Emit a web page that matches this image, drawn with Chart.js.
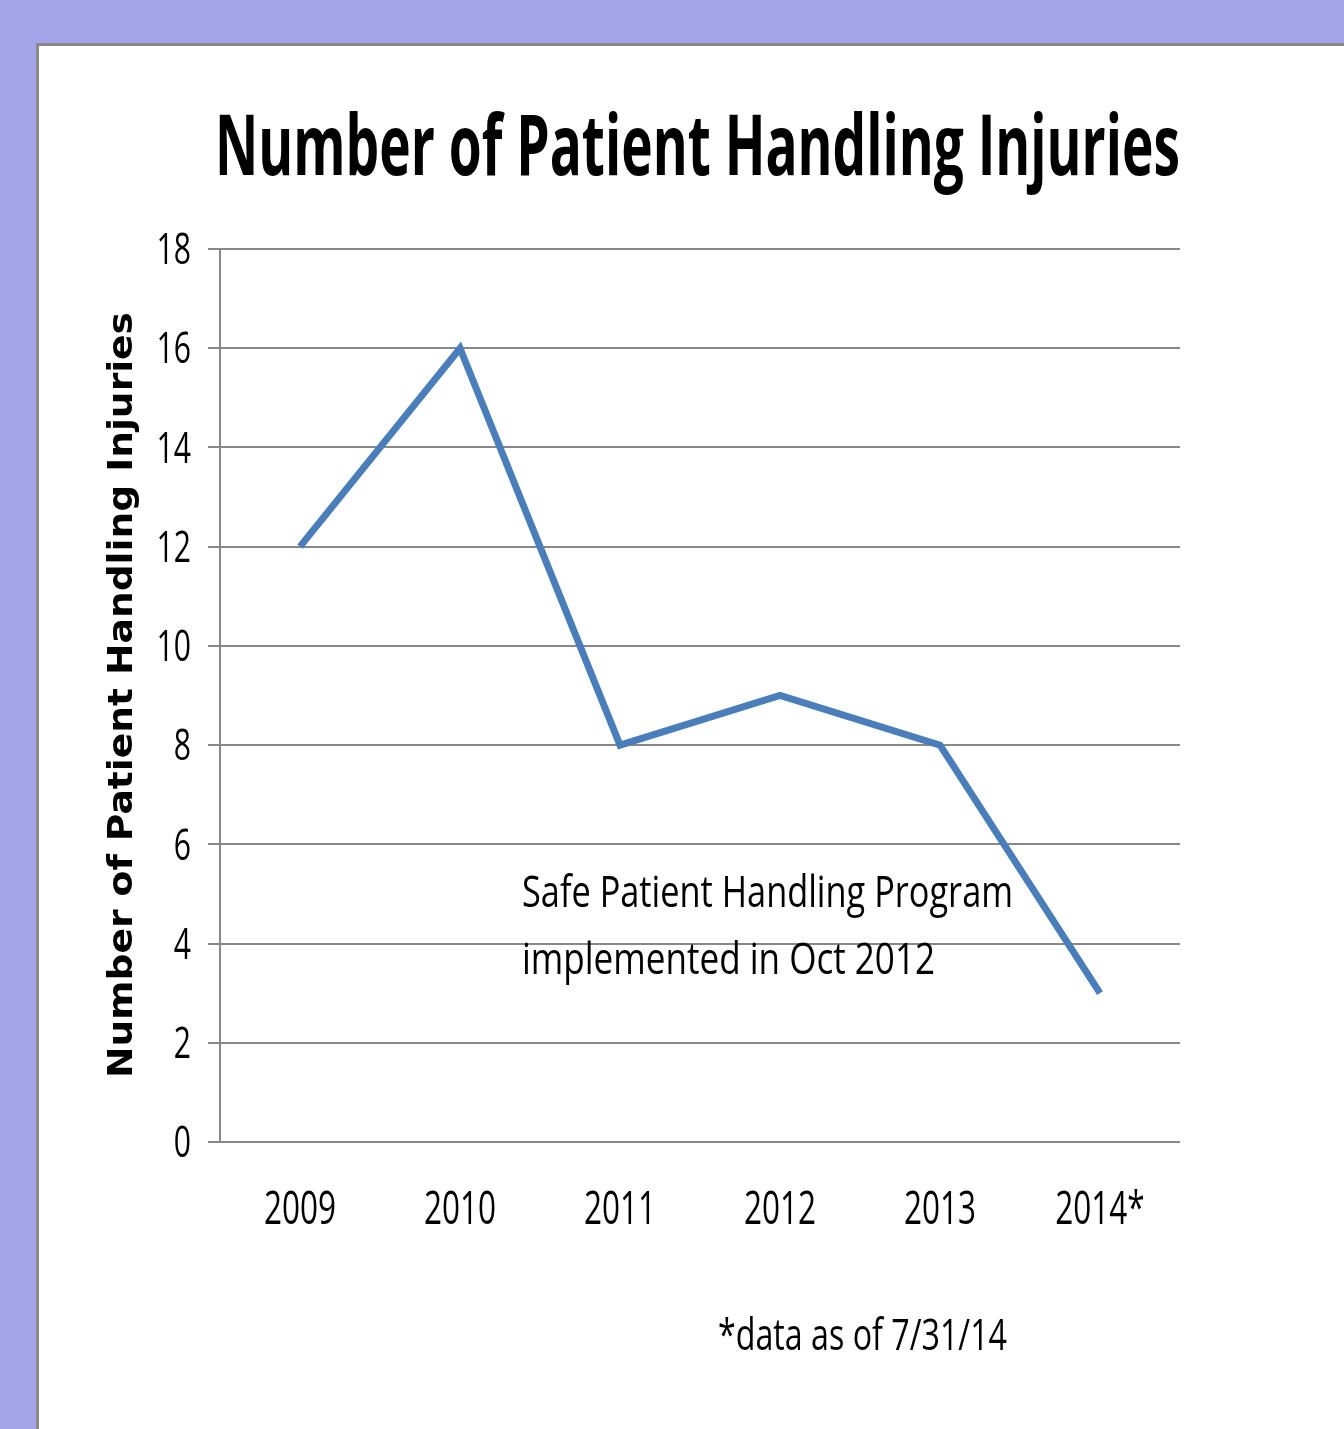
<!DOCTYPE html>
<html>
<head>
<meta charset="utf-8">
<script src="https://cdn.jsdelivr.net/npm/chart.js@4.4.1/dist/chart.umd.min.js"></script>
<style>
  html, body { margin: 0; padding: 0; background: #a4a5e8; }
  #wrap { width: 1344px; height: 1429px; }
</style>
</head>
<body>
<div id="wrap"><canvas id="injuryChart" width="1344" height="1429"></canvas></div>
<script>
// chart data
const years = ['2009', '2010', '2011', '2012', '2013', '2014*'];
const injuries = [12, 16, 8, 9, 8, 3];
const yMin = 0, yMax = 18, yStep = 2;

const chartTitle = 'Number of Patient Handling Injuries';
const yTitle = 'Number of Patient Handling Injuries';
const noteLines = ['Safe Patient Handling Program', 'implemented in Oct 2012'];
const footnote = '*data as of 7/31/14';

const sans = '"Open Sans", sans-serif';
const tickSqueeze = 0.7;   // the original uses a narrow font

let rawFillText = null;

// draw text squeezed/stretched to a given width (Calibri-like look)
function fitText(ctx, text, x, y, font, width, angle) {
    ctx.save();
    ctx.font = font;
    const w = ctx.measureText(text).width;
    ctx.translate(x, y);
    if (angle) ctx.rotate(angle);
    ctx.scale(width / w, 1);
    ctx.textAlign = 'left';
    ctx.textBaseline = 'alphabetic';
    ctx.fillStyle = '#000';
    rawFillText.call(ctx, text, 0, 0);
    ctx.restore();
}

// squeeze the tick labels horizontally around their anchor point
const narrowPlugin = {
    id: 'narrow',
    beforeInit(chart) {
        const ctx = chart.ctx;
        rawFillText = ctx.fillText;
        ctx.fillText = function (t, x, y) {
            // y tick labels (right aligned) sit a bit low in the original
            const dy = this.textAlign === 'right' ? 3 : 0;
            this.save();
            this.translate(x, y + dy);
            this.scale(tickSqueeze, 1);
            rawFillText.call(this, t, 0, 0);
            this.restore();
        };
    }
};

const panelPlugin = {
    id: 'panel',
    beforeDraw(chart) {
        const ctx = chart.ctx;
        ctx.save();
        ctx.fillStyle = '#a4a5e8';
        ctx.fillRect(0, 0, chart.width, chart.height);
        ctx.fillStyle = '#888888';
        ctx.fillRect(36, 43, chart.width - 36, chart.height - 43);
        ctx.fillStyle = '#ffffff';
        ctx.fillRect(39, 46, chart.width - 39, chart.height - 46);
        ctx.restore();
    }
};

const textPlugin = {
    id: 'texts',
    afterDraw(chart) {
        const ctx = chart.ctx;
        fitText(ctx, chartTitle, 215, 175, 'bold 84px ' + sans, 965);
        fitText(ctx, yTitle, 132, 1078, 'bold 33px "DejaVu Sans", Verdana, sans-serif', 766, -Math.PI / 2);
        fitText(ctx, noteLines[0], 522, 907, '44px ' + sans, 491);
        fitText(ctx, noteLines[1], 522, 974, '44px ' + sans, 413);
        fitText(ctx, footnote, 718, 1350, '44px ' + sans, 289);
    }
};

new Chart(document.getElementById('injuryChart'), {
    type: 'line',
    data: {
        labels: years,
        datasets: [{
            data: injuries,
            borderColor: '#4a7ebb',
            borderWidth: 7,
            pointRadius: 0,
            fill: false,
            tension: 0
        }]
    },
    options: {
        responsive: false,
        animation: false,
        events: [],
        layout: { padding: { top: 249, right: 164, bottom: 167, left: 0 } },
        plugins: { legend: { display: false }, tooltip: { enabled: false } },
        scales: {
            x: {
                offset: true,
                grid: { display: false, drawTicks: false },
                border: { display: false },
                ticks: { color: '#000', font: { family: sans, size: 45 }, padding: 42, maxRotation: 0 },
                afterFit(s) { s.height = 120; }
            },
            y: {
                min: yMin,
                max: yMax,
                ticks: { stepSize: yStep, color: '#000', font: { family: sans, size: 43 }, padding: 17 },
                grid: { color: '#888888', lineWidth: 2, tickLength: 12 },
                border: { color: '#888888', width: 2 },
                afterFit(s) { s.width = 220; }
            }
        }
    },
    plugins: [narrowPlugin, panelPlugin, textPlugin]
});
</script>
</body>
</html>
